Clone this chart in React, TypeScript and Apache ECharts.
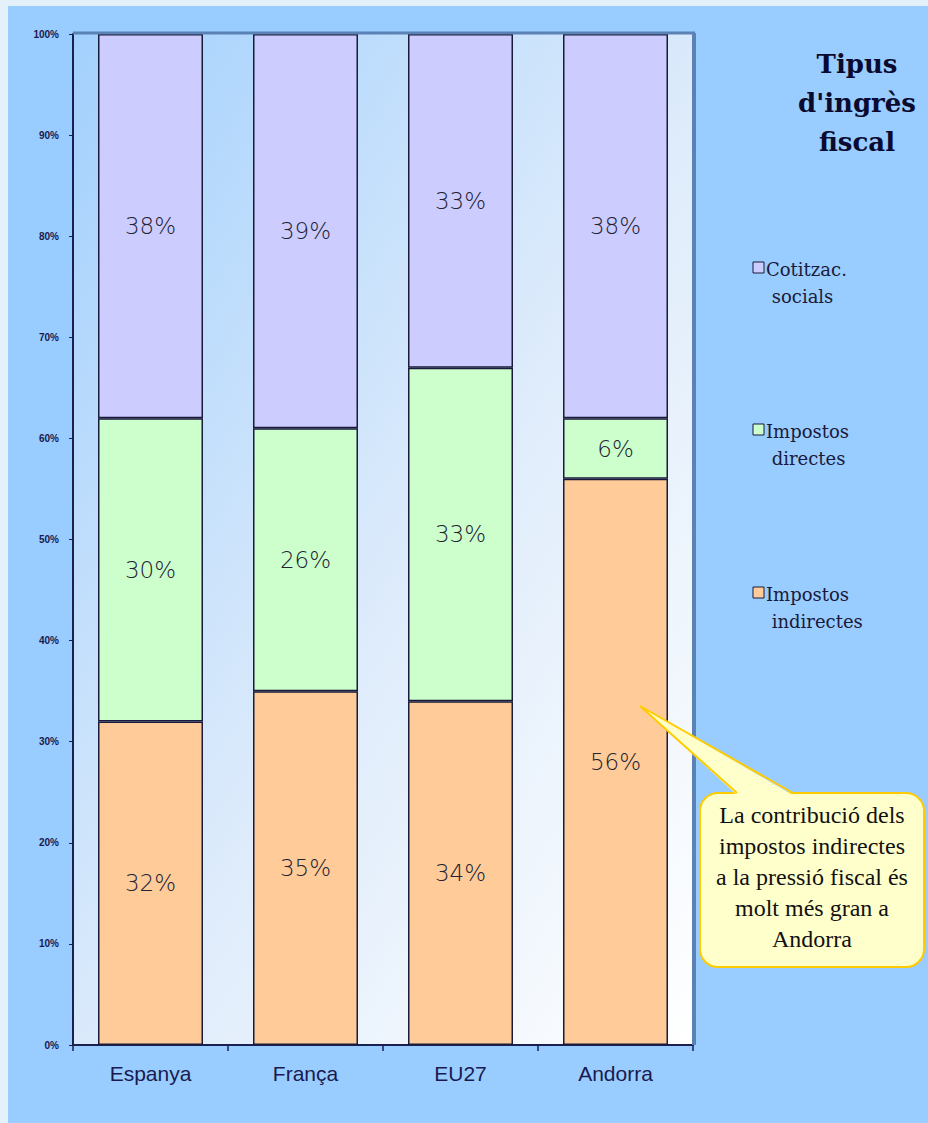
import React, { useEffect, useRef } from "react";
import * as echarts from "echarts";

const categories = ["Espanya", "França", "EU27", "Andorra"];
const seriesNames = ["Impostos indirectes", "Impostos directes", "Cotitzac. socials"];
const indirectes = [32, 35, 34, 56];
const directes = [30, 26, 33, 6];
const socials = [38, 39, 33, 38];
const yTicks = [0, 10, 20, 30, 40, 50, 60, 70, 80, 90, 100];
const legendLabels = ["Cotitzac.\n socials", "Impostos\n directes", "Impostos\n indirectes"];
const titleText = "Tipus\nd'ingrès\nfiscal";
const calloutText = "La contribució dels\nimpostos indirectes\na la pressió fiscal és\nmolt més gran a\nAndorra";

const colors = ["#FFCC99", "#CCFFCC", "#CCCCFF"];

export default function App() {
  const ref = useRef<HTMLDivElement>(null);
  useEffect(() => {
    if (!ref.current) return;
    const chart = echarts.init(ref.current, undefined, { renderer: "svg" });
    const values = [indirectes, directes, socials];
    const legendOrder = [2, 1, 0];
    const legendY = [268, 430, 593];
    const legendGraphics: any[] = [];
    legendOrder.forEach((si, i) => {
      legendGraphics.push({
        type: "rect",
        shape: { x: 753, y: legendY[i] - 6, width: 11, height: 11 },
        style: { fill: colors[si], stroke: "#1a1a3a", lineWidth: 1 },
        z: 10,
      });
      legendGraphics.push({
        type: "text",
        x: 766,
        y: legendY[i] - 12,
        style: {
          text: legendLabels[i],
          font: "18px 'DejaVu Serif', serif",
          fill: "#1a1a3a",
          lineHeight: 27,
          textAlign: "left",
          textVerticalAlign: "top",
        },
        z: 10,
      });
    });
    const option: any = {
      animation: false,
      backgroundColor: "#99CCFF",
      grid: {
        left: 73,
        top: 34,
        right: 235,
        bottom: 78,
        show: true,
        borderWidth: 0,
        backgroundColor: {
          type: "linear",
          x: 0,
          y: 0,
          x2: 1,
          y2: 1,
          colorStops: [
            { offset: 0, color: "#a2d0fd" },
            { offset: 0.55, color: "#dfecfb" },
            { offset: 1, color: "#ffffff" },
          ],
        },
      },
      xAxis: {
        type: "category",
        data: categories,
        axisLine: { lineStyle: { color: "#1a2050", width: 2 } },
        axisTick: { show: true, length: 6, lineStyle: { color: "#1a2050", width: 1.5 } },
        axisLabel: {
          color: "#1a1a50",
          fontSize: 21,
          fontFamily: "'Liberation Sans', Arial, sans-serif",
          margin: 18,
        },
      },
      yAxis: {
        type: "value",
        min: yTicks[0],
        max: yTicks[yTicks.length - 1],
        interval: 10,
        splitLine: { show: false },
        axisLine: { show: true, lineStyle: { color: "#1a2050", width: 2 } },
        axisTick: { show: true, length: 4, lineStyle: { color: "#1a2050" } },
        axisLabel: {
          formatter: "{value}%",
          color: "#1a1a50",
          fontSize: 10,
          fontWeight: "bold",
          fontFamily: "'Liberation Sans', Arial, sans-serif",
          margin: 14,
        },
      },
      series: seriesNames.map((name, si) => ({
        name,
        type: "bar",
        stack: "total",
        barWidth: 105,
        data: values[si],
        itemStyle: { color: colors[si], borderColor: "#1a1a3a", borderWidth: 1.5 },
        label: {
          show: true,
          position: "inside",
          formatter: "{c}%",
          fontSize: 23,
          color: "#222233",
          fontFamily: "'DejaVu Sans', Verdana, sans-serif",
          fontWeight: 300,
        },
      })),
      graphic: [
        { type: "rect", shape: { x: 0, y: 0, width: 928, height: 6 }, style: { fill: "#e4f1fb" }, z: 1 },
        { type: "rect", shape: { x: 0, y: 0, width: 8, height: 1123 }, style: { fill: "#e4f1fb" }, z: 1 },
        { type: "line", shape: { x1: 73, y1: 33, x2: 695, y2: 33 }, style: { stroke: "#5b82b5", lineWidth: 3 }, z: 5 },
        { type: "line", shape: { x1: 694, y1: 33, x2: 694, y2: 1045 }, style: { stroke: "#5b82b5", lineWidth: 4 }, z: 5 },
        {
          type: "text",
          x: 857,
          y: 44,
          style: {
            text: titleText,
            font: "bold 26px 'DejaVu Serif', serif",
            fill: "#0a0a30",
            lineHeight: 39,
            textAlign: "center",
            textVerticalAlign: "top",
          },
          z: 10,
        },
        ...legendGraphics,
        {
          type: "rect",
          shape: { x: 700, y: 793, width: 224, height: 174, r: 18 },
          style: { fill: "#FFFFCC", stroke: "#FFCC00", lineWidth: 2 },
          z: 20,
        },
        {
          type: "polygon",
          shape: { points: [[640, 706], [737, 795], [793, 795]] },
          style: { fill: "#FFFFCC" },
          z: 21,
        },
        {
          type: "polyline",
          shape: { points: [[737, 793], [640, 706], [793, 793]] },
          style: { stroke: "#FFCC00", lineWidth: 2, fill: null },
          z: 22,
        },
        {
          type: "text",
          x: 812,
          y: 799,
          style: {
            text: calloutText,
            font: "24px 'Liberation Serif', serif",
            fill: "#111111",
            lineHeight: 31,
            textAlign: "center",
            textVerticalAlign: "top",
          },
          z: 23,
        },
      ],
    };
    chart.setOption(option);
    return () => chart.dispose();
  }, []);
  return (
    <div
      ref={ref}
      style={{ position: "absolute", left: 0, top: 0, width: 928, height: 1123 }}
    />
  );
}
